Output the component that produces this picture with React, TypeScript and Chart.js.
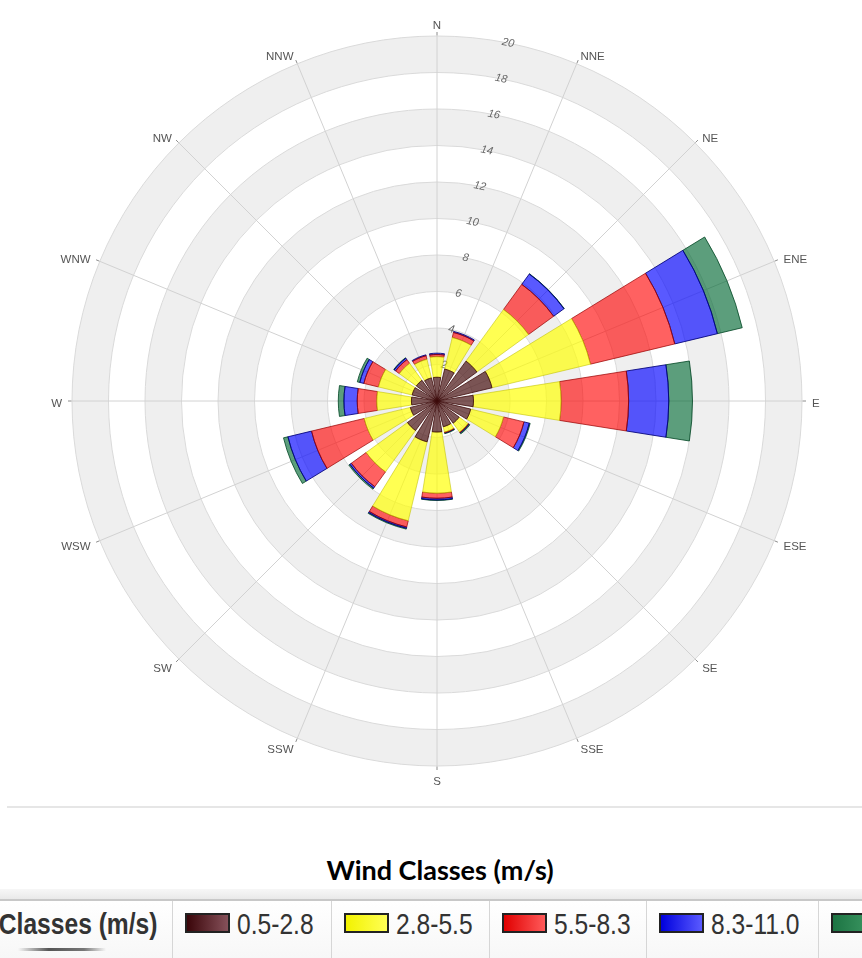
import React, { useEffect, useRef } from 'react';
import { Chart, registerables } from 'chart.js';

Chart.register(...registerables);

// ---------- data ----------
const DIRECTIONS = ['N', 'NNE', 'NE', 'ENE', 'E', 'ESE', 'SE', 'SSE', 'S', 'SSW', 'SW', 'WSW', 'W', 'WNW', 'NW', 'NNW'];
const SPEED_CLASSES = ['0.5-2.8', '2.8-5.5', '5.5-8.3', '8.3-11.0', '>=11.0'];

// frequency (%) of each speed class per direction (stacked outward)
const CLASS_0_5_2_8 = [1.3, 1.8, 2.7, 3.1, 2.0, 1.9, 1.5, 1.45, 1.7, 2.3, 2.0, 1.5, 1.4, 1.4, 1.4, 1.3];
const CLASS_2_8_5_5 = [1.13, 1.78, 3.5, 5.55, 4.8, 1.85, 0.6, 0.3, 3.35, 4.45, 2.8, 2.6, 1.9, 1.9, 1.15, 1.05];
const CLASS_5_5_8_3 = [0.12, 0.28, 1.7, 4.75, 3.7, 1.15, 0.03, 0.03, 0.28, 0.35, 1.0, 2.97, 1.07, 0.82, 0.25, 0.2];
const CLASS_8_3_11_0 = [0.07, 0.06, 0.7, 2.4, 2.2, 0.3, 0.03, 0.02, 0.09, 0.07, 0.1, 1.33, 0.73, 0.23, 0.1, 0.05];
const CLASS_11_0_UP = [0.0, 0.0, 0.02, 1.4, 1.3, 0.05, 0.06, 0.04, 0.03, 0.05, 0.07, 0.25, 0.31, 0.14, 0.03, 0.0];

const RADIAL_MAX = 20;
const RADIAL_STEP = 2;

// ---------- styles ----------
const FILLS = ['rgba(72,18,18,0.7)', 'rgba(255,255,0,0.68)', 'rgba(255,0,0,0.62)', 'rgba(0,0,255,0.65)', 'rgba(0,103,50,0.64)'];
const EDGES = ['rgba(60,10,10,0.8)', 'rgba(190,190,0,0.55)', 'rgba(150,0,0,0.7)', 'rgba(0,0,120,0.85)', 'rgba(0,70,35,0.8)'];
const LEGEND_BOXES = [
  'linear-gradient(to right, #3a0509, #86515a)',
  'linear-gradient(to right, #f2f200, #ffff55)',
  'linear-gradient(to right, #e00000, #ff5a5a)',
  'linear-gradient(to right, #0000dd, #5a5aff)',
  'linear-gradient(to right, #1c7443, #3f9a65)',
];
const WEDGE_FRACTION = 0.8;

const SERIES = [CLASS_0_5_2_8, CLASS_2_8_5_5, CLASS_5_5_8_3, CLASS_8_3_11_0, CLASS_11_0_UP];

const bandPlugin = {
  id: 'bands',
  beforeDraw(chart: any) {
    const s = chart.scales.r;
    const ctx = chart.ctx;
    ctx.save();
    ctx.fillStyle = '#efefef';
    const ticks = s.ticks;
    for (let i = 1; i < ticks.length - 1; i += 2) {
      const r0 = s.getDistanceFromCenterForValue(ticks[i].value);
      const r1 = s.getDistanceFromCenterForValue(ticks[i + 1].value);
      ctx.beginPath();
      ctx.arc(s.xCenter, s.yCenter, r1, 0, Math.PI * 2);
      ctx.arc(s.xCenter, s.yCenter, r0, 0, Math.PI * 2, true);
      ctx.fill();
    }
    ctx.restore();
  },
  beforeDatasetsDraw(chart: any) {
    const s = chart.scales.r;
    const ctx = chart.ctx;
    const a = (s.getIndexAngle(0) + s.getIndexAngle(1)) / 2;
    ctx.save();
    ctx.translate(s.xCenter, s.yCenter);
    ctx.rotate(a);
    ctx.font = 'italic 11px "Liberation Sans", Arial, sans-serif';
    ctx.fillStyle = '#666';
    ctx.textAlign = 'center';
    ctx.textBaseline = 'middle';
    s.ticks.forEach((t: any) => {
      if (t.value <= 0) return;
      const r = s.getDistanceFromCenterForValue(t.value);
      ctx.fillText(String(t.value), 0, -r);
    });
    ctx.restore();
  },
};

const stackPlugin = {
  id: 'windStack',
  afterDatasetsUpdate(chart: any) {
    const s = chart.scales.r;
    const n = chart.data.labels.length;
    const half = (WEDGE_FRACTION * Math.PI) / n;
    const base = new Array(n).fill(0);
    chart.data.datasets.forEach((ds: any, d: number) => {
      const meta = chart.getDatasetMeta(d);
      meta.data.forEach((arc: any, i: number) => {
        const v = ds.data[i] || 0;
        const mid = s.getIndexAngle(i) - Math.PI / 2;
        const inner = s.getDistanceFromCenterForValue(base[i]);
        base[i] += v;
        const outer = s.getDistanceFromCenterForValue(base[i]);
        arc.x = s.xCenter;
        arc.y = s.yCenter;
        arc.innerRadius = inner;
        arc.outerRadius = v > 0 ? outer : inner;
        arc.startAngle = mid - half;
        arc.endAngle = mid + half;
        arc.circumference = v > 0 ? 2 * half : 0;
      });
    });
  },
};

const compassPlugin = {
  id: 'compass',
  afterDraw(chart: any) {
    const s = chart.scales.r;
    const ctx = chart.ctx;
    const R = s.getDistanceFromCenterForValue(s.max);
    ctx.save();
    ctx.font = '11.5px "Liberation Sans", Arial, sans-serif';
    ctx.fillStyle = '#555';
    ctx.strokeStyle = '#8c8c8c';
    ctx.lineWidth = 1;
    chart.data.labels.forEach((name: string, i: number) => {
      const a = s.getIndexAngle(i);
      const sin = Math.sin(a);
      const p0 = s.getPointPosition(i, R + 0.5);
      const p1 = s.getPointPosition(i, R + 4);
      ctx.beginPath();
      ctx.moveTo(p0.x, p0.y);
      ctx.lineTo(p1.x, p1.y);
      ctx.stroke();
      const vertical = Math.abs(sin) < 1e-6;
      const anchor = s.getPointPosition(i, R + (vertical ? 13 : 10));
      ctx.textAlign = vertical ? 'center' : sin > 0 ? 'left' : 'right';
      ctx.textBaseline = 'middle';
      ctx.fillText(name, anchor.x, anchor.y + 2.5);
    });
    ctx.restore();
  },
};

const CELL_X = [172, 331, 489, 646, 818];

export default function App() {
  const canvasRef = useRef<HTMLCanvasElement | null>(null);

  useEffect(() => {
    document.documentElement.style.overflow = 'hidden';
    document.body.style.margin = '0';
    const chart = new Chart(canvasRef.current as HTMLCanvasElement, {
      type: 'polarArea',
      data: {
        labels: DIRECTIONS,
        datasets: SERIES.map((values, k) => ({
          label: SPEED_CLASSES[k],
          data: values,
          backgroundColor: FILLS[k],
          borderColor: EDGES[k],
          borderWidth: 1,
        })),
      },
      options: {
        animation: false,
        responsive: true,
        maintainAspectRatio: false,
        events: [],
        layout: { padding: { left: 12, right: 0, top: 36, bottom: 34 } },
        plugins: { legend: { display: false }, tooltip: { enabled: false } },
        scales: {
          r: {
            min: 0,
            max: RADIAL_MAX,
            startAngle: 0,
            ticks: { display: false, stepSize: RADIAL_STEP },
            grid: { display: true, circular: true, color: '#dadada', lineWidth: 1 },
            angleLines: { display: true, color: '#d2d2d2', lineWidth: 1 },
            pointLabels: { display: false },
          },
        },
      } as any,
      plugins: [bandPlugin, stackPlugin, compassPlugin],
    });
    return () => chart.destroy();
  }, []);

  return (
    <div
      style={{
        position: 'relative',
        width: 862,
        height: 958,
        overflow: 'hidden',
        background: '#fff',
        fontFamily: '"Liberation Sans", Arial, sans-serif',
      }}
    >
      <div style={{ position: 'absolute', left: 0, top: 0, width: 862, height: 800 }}>
        <canvas ref={canvasRef} />
      </div>
      <div style={{ position: 'absolute', left: 7, width: 855, top: 806, height: 2, background: '#e6e6e6' }} />
      <div
        style={{
          position: 'absolute',
          left: 9,
          width: 862,
          top: 857,
          textAlign: 'center',
          fontFamily: 'Lato, "Open Sans", sans-serif',
          fontWeight: 700,
          fontSize: 27,
          lineHeight: '26px',
          color: '#000',
          whiteSpace: 'nowrap',
        }}
      >
        Wind Classes (m/s)
      </div>

      {/* legend strip */}
      <div style={{ position: 'absolute', left: 0, top: 889, width: 862, height: 10, background: 'linear-gradient(#f7f7f7, #e9e9e9)' }} />
      <div style={{ position: 'absolute', left: 0, top: 899, width: 862, height: 2, background: '#c8c8c8' }} />
      <div style={{ position: 'absolute', left: 0, top: 901, width: 862, height: 57, background: 'linear-gradient(#ffffff, #f7f7f7)' }} />
      {CELL_X.map((x) => (
        <div key={'sep' + x} style={{ position: 'absolute', left: x, top: 901, width: 1, height: 57, background: '#d6d6d6' }} />
      ))}
      <div
        style={{
          position: 'absolute',
          right: 862 - 157,
          top: 909,
          fontSize: 30,
          lineHeight: '30px',
          fontWeight: 700,
          color: '#333',
          whiteSpace: 'nowrap',
          transform: 'scaleX(0.82)',
          transformOrigin: 'right center',
        }}
      >
        Classes (m/s)
      </div>
      <div
        style={{
          position: 'absolute',
          left: 18,
          top: 948,
          width: 88,
          height: 3,
          background: 'linear-gradient(to right, rgba(90,90,90,0), #555 35%, #777 75%, rgba(150,150,150,0))',
        }}
      />
      {SPEED_CLASSES.map((label, k) => (
        <React.Fragment key={label}>
          <div
            style={{
              position: 'absolute',
              left: CELL_X[k] + 13,
              top: 913,
              width: 45,
              height: 20,
              boxSizing: 'border-box',
              border: '2px solid #222',
              background: LEGEND_BOXES[k],
            }}
          />
          <div
            style={{
              position: 'absolute',
              left: CELL_X[k] + 65,
              top: 909,
              fontSize: 30,
              lineHeight: '30px',
              color: '#333',
              whiteSpace: 'nowrap',
              transform: 'scaleX(0.82)',
              transformOrigin: 'left center',
            }}
          >
            {label}
          </div>
        </React.Fragment>
      ))}
    </div>
  );
}
